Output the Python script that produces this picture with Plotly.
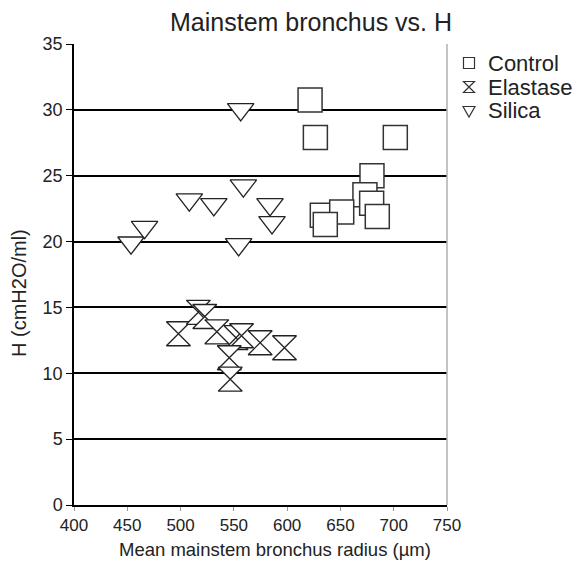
import plotly.graph_objects as go

control_x = [621.5, 626.5, 701.5, 679.6, 673.0, 633.0, 679.3, 684.6, 651.2, 635.8]
control_y = [30.75, 27.9, 27.9, 25.0, 23.56, 22.0, 22.9, 21.9, 22.25, 21.3]

elastase_x = [498.0, 516.7, 522.7, 534.0, 552.0, 557.2, 545.7, 546.6, 574.7, 597.5]
elastase_y = [13.0, 14.63, 14.31, 13.15, 12.7, 12.85, 11.18, 9.55, 12.32, 11.94]

silica_x = [453.5, 466.2, 508.2, 531.2, 558.9, 556.4, 554.5, 583.9, 585.8]
silica_y = [19.91, 21.1, 23.18, 22.82, 24.24, 30.03, 19.78, 22.82, 21.45]

x_ticks = [400, 450, 500, 550, 600, 650, 700, 750]
y_ticks = [0, 5, 10, 15, 20, 25, 30, 35]

series_names = ["Control", "Elastase", "Silica"]

FONT = "Liberation Sans, Arial, sans-serif"
TXT = "#222222"

# plot area in pixels (after browser offset): left 73, top 43, width 373, height 461
L, T, PW, PH = 73, 43, 373, 461


def px(xp):
    return (xp - L) / PW


def py(yp):
    return (T + PH - yp) / PH


key_paths = [
    "M -5.5,-5.5 H 5.5 V 5.5 H -5.5 Z",
    "M -5.5,5.5 H 5.5 L -5.5,-5.5 H 5.5 Z",
    "M -6,4.5 H 6 L 0,-6 Z",
]

fig = go.Figure()
fig.add_trace(go.Scatter(
    x=control_x, y=control_y, mode="markers", name="Control",
    marker=dict(symbol="square", size=24, color="white",
                line=dict(color="#333333", width=1.5))))
fig.add_trace(go.Scatter(
    x=elastase_x, y=elastase_y, mode="markers", name="Elastase",
    marker=dict(symbol="hourglass", size=24, color="white",
                line=dict(color="#222222", width=1.3))))
fig.add_trace(go.Scatter(
    x=silica_x, y=silica_y, mode="markers", name="Silica",
    marker=dict(symbol="triangle-down", size=23, color="white",
                line=dict(color="#222222", width=1.3))))

annotations = []
shapes = [dict(type="line", xref="paper", yref="paper", x0=1, x1=1, y0=0, y1=1,
               line=dict(color="#b0b0b0", width=1.5))]
for i, name in enumerate(series_names):
    ky = py(62 + 24 * i)
    shapes.append(dict(type="path", xref="paper", yref="paper",
                       xsizemode="pixel", ysizemode="pixel",
                       xanchor=px(468), yanchor=ky, path=key_paths[i],
                       fillcolor="white", line=dict(color="#333333", width=1.2)))
    annotations.append(dict(text=name, xref="paper", yref="paper", x=px(485), y=ky,
                            xanchor="left", yanchor="middle", showarrow=False,
                            font=dict(size=22, color=TXT)))

annotations += [
    dict(text="Mainstem bronchus vs. H", xref="paper", yref="paper",
         x=px(310), y=py(21), xanchor="center", yanchor="middle",
         showarrow=False, font=dict(size=25, color=TXT)),
    dict(text="Mean mainstem bronchus radius (µm)", xref="paper", yref="paper",
         x=px(274), y=py(548), xanchor="center", yanchor="middle",
         showarrow=False, font=dict(size=18.5, color=TXT)),
    dict(text="H (cmH2O/ml)", xref="paper", yref="paper", textangle=-90,
         x=px(18), y=py(292), xanchor="center", yanchor="middle",
         showarrow=False, font=dict(size=20, color=TXT)),
]

fig.update_layout(
    width=580, height=561,
    margin=dict(l=66, r=141, t=36, b=64),
    paper_bgcolor="white", plot_bgcolor="white",
    font=dict(family=FONT, size=17, color=TXT),
    showlegend=False,
    xaxis=dict(range=[400, 750], tickvals=x_ticks, showgrid=False,
               zeroline=False, showline=True, linecolor="black", linewidth=1.5,
               ticks="outside", ticklen=4, tickcolor="#999999",
               tickfont=dict(size=17)),
    yaxis=dict(range=[0, 35], tickvals=y_ticks, showgrid=True,
               gridcolor="black", gridwidth=2, zeroline=False,
               showline=True, linecolor="black", linewidth=1.5,
               ticks="outside", ticklen=6, tickcolor="black",
               tickfont=dict(size=18)),
    annotations=annotations,
    shapes=shapes,
)

fig.write_html("out.html")
